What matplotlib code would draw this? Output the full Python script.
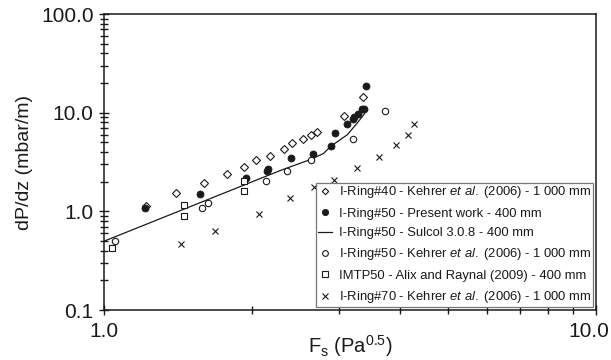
import matplotlib
matplotlib.use("Agg")
import matplotlib.pyplot as plt
import matplotlib.transforms as mtransforms
from matplotlib.ticker import LogLocator, FixedLocator, FixedFormatter, NullFormatter

plt.rcParams["font.family"] = ["Liberation Sans", "DejaVu Sans"]
plt.rcParams["mathtext.fontset"] = "custom"
plt.rcParams["mathtext.rm"] = "Liberation Sans"
plt.rcParams["mathtext.it"] = "Liberation Sans:italic"

# I-Ring#40 - Kehrer et al. (2006) - 1000 mm
ring40_fs = [1.218, 1.402, 1.598, 1.780, 1.928, 2.040, 2.178, 2.326, 2.415, 2.543, 2.640, 2.716, 3.068, 3.354]
ring40_dp = [1.123, 1.520, 1.918, 2.365, 2.783, 3.275, 3.679, 4.329, 4.977, 5.462, 5.995, 6.430, 9.330, 14.51]

# I-Ring#50 - present work - 400 mm
present_fs = [1.212, 1.569, 1.946, 2.140, 2.150, 2.403, 2.665, 2.900, 2.954, 3.111, 3.200, 3.215, 3.276, 3.338, 3.370, 3.401]
present_dp = [1.072, 1.485, 2.154, 2.560, 2.700, 3.511, 3.853, 4.642, 6.280, 7.743, 8.700, 9.110, 9.770, 10.85, 10.97, 18.74]

# I-Ring#50 - Sulcol 3.0.8 prediction - 400 mm
sulcol_fs = [1.000, 2.283, 2.628, 2.793, 2.886, 3.125, 3.276, 3.385]
sulcol_dp = [0.498, 2.595, 3.352, 3.853, 4.537, 5.995, 7.925, 9.770]

# I-Ring#50 - Kehrer et al. (2006) - 1000 mm
ring50_fs = [1.053, 1.584, 1.628, 2.138, 2.359, 2.640, 3.200, 3.718]
ring50_dp = [0.498, 1.072, 1.205, 2.009, 2.536, 3.352, 5.462, 10.48]

# IMTP50 - Alix and Raynal (2009) - 400 mm
imtp_fs = [1.038, 1.456, 1.456, 1.928, 1.928]
imtp_dp = [0.423, 1.150, 0.890, 2.009, 1.592]

# I-Ring#70 - Kehrer et al. (2006) - 1000 mm
ring70_fs = [1.435, 1.683, 2.069, 2.393, 2.678, 2.940, 3.262, 3.614, 3.914, 4.141, 4.260]
ring70_dp = [0.464, 0.628, 0.933, 1.353, 1.748, 2.056, 2.719, 3.594, 4.752, 5.995, 7.743]

y_ticks = [0.1, 1.0, 10.0, 100.0]
y_tick_labels = ["0.1", "1.0", "10.0", "100.0"]
x_ticks = [1.0, 10.0]
x_tick_labels = ["1.0", "10.0"]

fig = plt.figure(figsize=(6.11, 3.60), dpi=100)
ax = fig.add_axes([104 / 611, 50 / 360, 492 / 611, 296 / 360])

ink = "#1a1a1a"
ax.plot(ring40_fs, ring40_dp, linestyle="none", marker="D", ms=3.6, mfc="white",
        mec=ink, mew=0.8, label=r"I-Ring#40 - Kehrer $\it{et\ al.}$ (2006) - 1 000 mm")
ax.plot(present_fs, present_dp, linestyle="none", marker="o", ms=5.0, mfc=ink,
        mec=ink, mew=0.6, label="I-Ring#50 - Present work - 400 mm")
ax.plot(sulcol_fs, sulcol_dp, color=ink, lw=0.9,
        label="I-Ring#50 - Sulcol 3.0.8 - 400 mm")
ax.plot(ring50_fs, ring50_dp, linestyle="none", marker="o", ms=4.6, mfc="white",
        mec=ink, mew=0.8, label=r"I-Ring#50 - Kehrer $\it{et\ al.}$ (2006) - 1 000 mm")
ax.plot(imtp_fs, imtp_dp, linestyle="none", marker="s", ms=4.4, mfc="white",
        mec=ink, mew=0.8, label="IMTP50 - Alix and Raynal (2009) - 400 mm")
ax.plot(ring70_fs, ring70_dp, linestyle="none", marker="x", ms=4.2, color=ink,
        mew=0.8, label=r"I-Ring#70 - Kehrer $\it{et\ al.}$ (2006) - 1 000 mm")

ax.set_xscale("log")
ax.set_yscale("log")
ax.set_xlim(1.0, 10.0)
ax.set_ylim(0.1, 100.0)

ax.xaxis.set_major_locator(FixedLocator(x_ticks))
ax.xaxis.set_major_formatter(FixedFormatter(x_tick_labels))
ax.xaxis.set_minor_locator(LogLocator(base=10, subs=range(2, 10)))
ax.xaxis.set_minor_formatter(NullFormatter())
ax.yaxis.set_major_locator(FixedLocator(y_ticks))
ax.yaxis.set_major_formatter(FixedFormatter(y_tick_labels))
ax.yaxis.set_minor_locator(LogLocator(base=10, subs=range(2, 10)))
ax.yaxis.set_minor_formatter(NullFormatter())

ax.tick_params(which="both", direction="inout", color=ink, width=1.0,
               top=False, right=False, labelsize=15, labelcolor=ink)
ax.tick_params(which="major", length=7)
ax.tick_params(which="minor", length=6)
ax.tick_params(axis="y", which="major", pad=4)
ax.tick_params(axis="x", which="major", pad=5)

for side in ["left", "bottom", "top", "right"]:
    ax.spines[side].set_color(ink)
    ax.spines[side].set_linewidth(1.1)

# keep the right-hand x label inside the figure
xlabels = ax.get_xticklabels()
shift = mtransforms.ScaledTranslation(-7 / 100, 0, fig.dpi_scale_trans)
xlabels[-1].set_transform(xlabels[-1].get_transform() + shift)

ax.set_xlabel(r"F$_{\mathrm{s}}$ (Pa$^{0.5}$)", fontsize=14.5, color=ink)
ax.xaxis.set_label_coords(0.5, -0.078)
ax.set_ylabel("dP/dz (mbar/m)", fontsize=14, color=ink, labelpad=6)

leg = ax.legend(loc="lower right", bbox_to_anchor=(0.994, 0.011), borderaxespad=0,
                fontsize=9.4, frameon=True, fancybox=False, edgecolor="#777777",
                framealpha=1, handlelength=1.1, handletextpad=0.5,
                borderpad=0.12, labelspacing=0.56, markerscale=0.9)
leg.get_frame().set_linewidth(0.9)
for t in leg.get_texts():
    t.set_color(ink)

fig.savefig("out.png", dpi=100)
